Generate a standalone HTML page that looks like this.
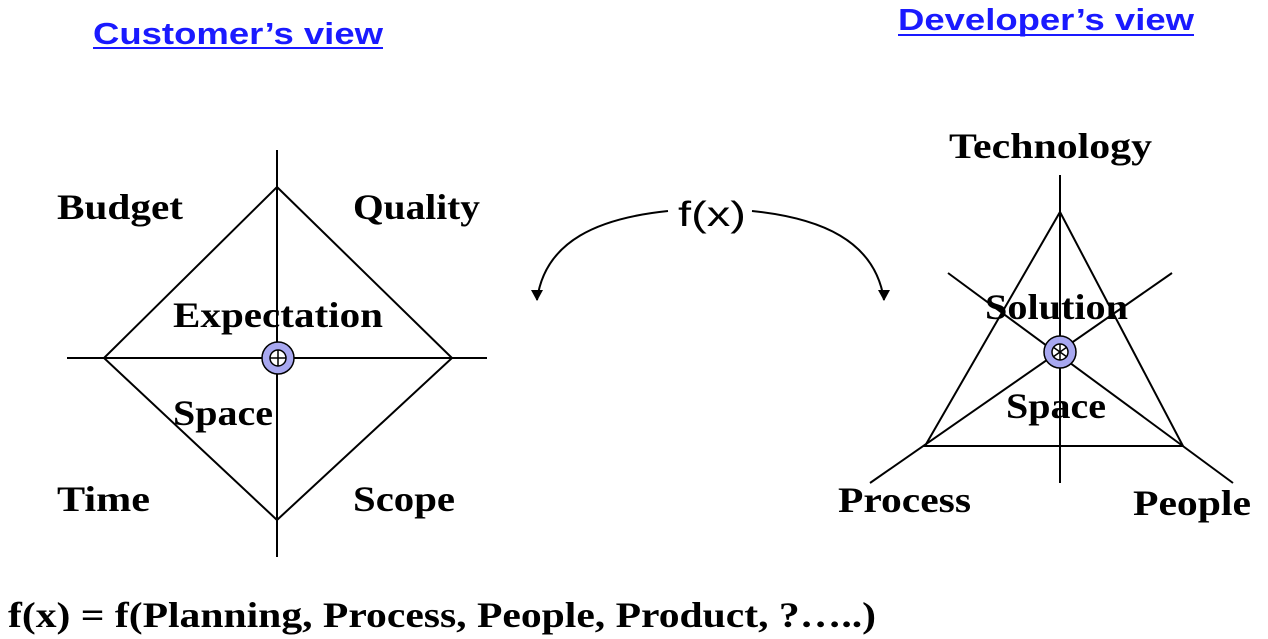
<!DOCTYPE html>
<html><head><meta charset="utf-8"><style>
html,body{margin:0;padding:0;background:#fff;width:1268px;height:639px;overflow:hidden}
svg{display:block}
.s{font-family:"Liberation Serif",serif;font-weight:bold;font-size:36px;fill:#000}
.h{font-family:"Liberation Sans",sans-serif;font-weight:bold;font-size:31px;fill:#1a1aff}
</style></head><body>
<svg width="1268" height="639" viewBox="0 0 1268 639">
<defs><marker id="a" markerWidth="12" markerHeight="12" refX="6" refY="10" orient="0" markerUnits="userSpaceOnUse">
<path d="M0,0 L12,0 L6,11 z" fill="#000"/></marker></defs>
<g stroke="#000" stroke-width="2" fill="none">
<line x1="277" y1="150" x2="277" y2="557"/>
<line x1="67" y1="358" x2="487" y2="358"/>
<polygon points="277,187 452,358 277,520 104,358"/>
<line x1="1060" y1="175" x2="1060" y2="483"/>
<polygon points="1060,212 1183,446 925,446"/>
<line x1="948" y1="273" x2="1233" y2="483"/>
<line x1="1172" y1="273" x2="870" y2="483"/>
<path d="M668,211 C600,218 545,240 537,300" marker-end="url(#a)"/>
<path d="M752,211 C820,218 875,240 884,300" marker-end="url(#a)"/>
</g>
<text class="h" x="93" y="44" textLength="290" lengthAdjust="spacingAndGlyphs">Customer’s view</text>
<line x1="93" y1="48" x2="383" y2="48" stroke="#1a1aff" stroke-width="2"/>
<text class="h" x="898" y="30" textLength="296" lengthAdjust="spacingAndGlyphs">Developer’s view</text>
<line x1="898" y1="35" x2="1194" y2="35" stroke="#1a1aff" stroke-width="2"/>
<text class="s" x="57" y="219" textLength="126" lengthAdjust="spacingAndGlyphs">Budget</text>
<text class="s" x="353" y="219" textLength="127" lengthAdjust="spacingAndGlyphs">Quality</text>
<text class="s" x="173" y="327" textLength="210" lengthAdjust="spacingAndGlyphs">Expectation</text>
<text class="s" x="173" y="425" textLength="100" lengthAdjust="spacingAndGlyphs">Space</text>
<text class="s" x="57" y="511" textLength="93" lengthAdjust="spacingAndGlyphs">Time</text>
<text class="s" x="353" y="511" textLength="102" lengthAdjust="spacingAndGlyphs">Scope</text>
<text class="s" x="949" y="158" textLength="203" lengthAdjust="spacingAndGlyphs">Technology</text>
<text class="s" x="985" y="319" textLength="143" lengthAdjust="spacingAndGlyphs">Solution</text>
<text class="s" x="1006" y="418" textLength="100" lengthAdjust="spacingAndGlyphs">Space</text>
<text class="s" x="838" y="512" textLength="133" lengthAdjust="spacingAndGlyphs">Process</text>
<text class="s" x="1133" y="515" textLength="118" lengthAdjust="spacingAndGlyphs">People</text>
<text x="678" y="226" font-family="Liberation Sans,sans-serif" font-size="35" textLength="68" lengthAdjust="spacingAndGlyphs">f(x)</text>
<text class="s" x="8" y="627" textLength="868" lengthAdjust="spacingAndGlyphs">f(x) =  f(Planning, Process, People, Product, ?…..)</text>
<g stroke="#000" stroke-width="1.5">
<circle cx="278" cy="358" r="16" fill="#a8a8f0"/>
<circle cx="278" cy="358" r="8" fill="#fff"/>
<line x1="278" y1="350" x2="278" y2="366"/><line x1="270" y1="358" x2="286" y2="358"/>
<circle cx="1060" cy="352" r="16" fill="#a8a8f0"/>
<circle cx="1060" cy="352" r="8" fill="#fff"/>
<line x1="1060" y1="344" x2="1060" y2="360"/><line x1="1053" y1="347" x2="1067" y2="357"/><line x1="1067" y1="347" x2="1053" y2="357"/>
</g>
</svg>
</body></html>
